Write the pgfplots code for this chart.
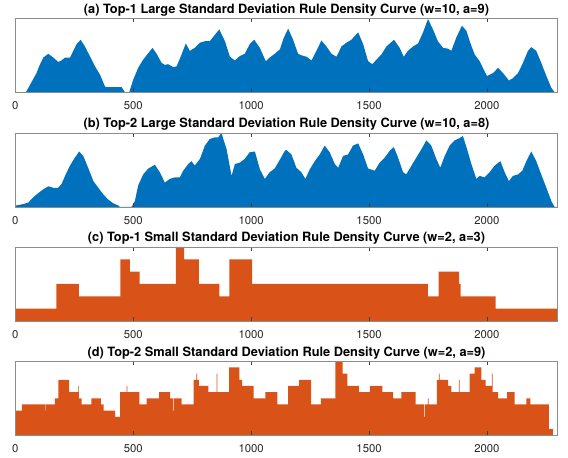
\documentclass[border=0pt]{standalone}
\usepackage{fontspec}
\setmainfont{TeX Gyre Heros}
\usepackage{pgfplots}
\pgfplotsset{compat=1.18}

\definecolor{mblue}{rgb}{0,0.447,0.741}
\definecolor{morange}{rgb}{0.85,0.325,0.098}

\pgfplotsset{
  panel/.style={
    scale only axis,
    width=542.4pt, height=74pt,
    anchor=south west,
    xmin=0, xmax=2300, ymin=0,
    xtick={0,500,1000,1500,2000},
    xticklabels={0,500,1000,1500,2000},
    ytick=\empty,
    tick align=inside,
    xtick pos=both, xticklabel pos=lower,
    major tick length=4pt,
    axis line style={black!45, line width=0.6pt},
    tick style={black!75, line width=0.5pt},
    xticklabel style={font=\fontsize{11.3}{13}\selectfont, yshift=-5.5pt, text=black!85},
    every axis title shift=0pt,
    title style={at={(0.5,1)}, anchor=south, inner sep=0pt, yshift=2pt,
                 font=\bfseries\fontsize{12.8}{14}\selectfont},
    axis on top,
  }
}

\begin{document}
\begin{tikzpicture}
\path[use as bounding box] (0pt,0pt) rectangle (568pt,458pt);

% (a) Top-1 large standard deviation rule
\begin{axis}[panel, at={(15.3pt,365.7pt)}, ymax=1,
  title={(a) Top-1 Large Standard Deviation Rule Density Curve (w=10, a=9)}]
\addplot[fill=mblue, draw=none] coordinates {
(0,0) (45,0) (90,0.26) (105,0.38) (119,0.47) (140,0.52) (161,0.47) (182,0.41)
(196,0.43) (211,0.47) (232,0.47) (246,0.56) (260,0.65) (277,0.71) (295,0.62)
(316,0.49) (338,0.35) (359,0.24) (380,0.08) (387,0.07) (451,0.07) (465,0)
(483,0) (500,0.17) (521,0.33) (542,0.44) (564,0.53) (582,0.60) (599,0.52)
(620,0.40) (634,0.37) (648,0.38) (670,0.34) (684,0.35) (705,0.51) (723,0.66)
(740,0.56) (761,0.60) (783,0.67) (804,0.69) (825,0.69) (842,0.76) (865,0.85)
(889,0.69) (910,0.48) (931,0.43) (952,0.49) (973,0.52) (994,0.65) (1013,0.71)
(1037,0.60) (1062,0.42) (1079,0.47) (1100,0.52) (1122,0.58) (1139,0.74)
(1157,0.86) (1178,0.71) (1199,0.52) (1213,0.50) (1235,0.48) (1256,0.43)
(1277,0.56) (1298,0.70) (1319,0.62) (1341,0.52) (1362,0.48) (1383,0.62)
(1404,0.67) (1425,0.71) (1454,0.81) (1475,0.65) (1496,0.42) (1514,0.38)
(1531,0.44) (1552,0.51) (1574,0.62) (1606,0.71) (1630,0.60) (1647,0.48)
(1665,0.56) (1687,0.62) (1708,0.66) (1729,0.81) (1750,0.99) (1771,0.85)
(1792,0.69) (1814,0.60) (1835,0.59) (1849,0.56) (1870,0.74) (1894,0.90)
(1913,0.83) (1929,0.67) (1948,0.51) (1969,0.42) (1986,0.31) (2000,0.22)
(2026,0.26) (2047,0.33) (2068,0.26) (2093,0.16) (2110,0.19) (2132,0.26)
(2153,0.40) (2174,0.56) (2188,0.61) (2209,0.56) (2230,0.40) (2252,0.22)
(2273,0.06) (2287,0) (2300,0)
} \closedcycle;
\end{axis}

% (b) Top-2 large standard deviation rule
\begin{axis}[panel, at={(15.3pt,251pt)}, ymax=1,
  title={(b) Top-2 Large Standard Deviation Rule Density Curve (w=10, a=8)}]
\addplot[fill=mblue, draw=none] coordinates {
(0,0.02) (3,0.02) (34,0.04) (55,0.06) (76,0.13) (98,0.19) (119,0.24) (140,0.28)
(161,0.26) (182,0.26) (196,0.31) (211,0.42) (232,0.56) (253,0.67) (271,0.75)
(288,0.69) (309,0.53) (331,0.35) (352,0.26) (373,0.17) (394,0.10) (415,0.05)
(437,0.02) (444,0) (493,0) (507,0.08) (521,0.29) (542,0.44) (564,0.52)
(592,0.57) (613,0.47) (634,0.33) (655,0.38) (677,0.40) (698,0.40) (712,0.49)
(733,0.58) (747,0.62) (761,0.56) (783,0.65) (804,0.83) (825,0.92) (846,0.94)
(860,0.94) (874,1.0) (896,0.78) (917,0.42) (931,0.58) (952,0.60) (973,0.65)
(994,0.74) (1016,0.75) (1037,0.51) (1058,0.38) (1079,0.47) (1100,0.52)
(1122,0.64) (1143,0.76) (1150,0.77) (1171,0.71) (1192,0.53) (1213,0.47)
(1230,0.38) (1249,0.51) (1270,0.62) (1291,0.71) (1312,0.83) (1333,0.74)
(1355,0.58) (1369,0.53) (1390,0.69) (1411,0.71) (1432,0.83) (1454,0.86)
(1475,0.71) (1496,0.52) (1524,0.49) (1545,0.60) (1567,0.67) (1588,0.76)
(1605,0.81) (1623,0.67) (1644,0.47) (1658,0.44) (1680,0.56) (1701,0.67)
(1722,0.78) (1743,0.90) (1764,0.83) (1785,0.65) (1802,0.53) (1821,0.69)
(1842,0.83) (1863,0.90) (1884,0.93) (1898,0.96) (1913,0.81) (1934,0.58)
(1955,0.38) (1969,0.42) (1990,0.40) (2011,0.47) (2033,0.56) (2057,0.62)
(2075,0.47) (2093,0.35) (2110,0.42) (2132,0.44) (2150,0.49) (2167,0.62)
(2188,0.75) (2209,0.62) (2230,0.44) (2252,0.26) (2273,0.08) (2287,0) (2300,0)
} \closedcycle;
\end{axis}

% (c) Top-1 small standard deviation rule
\begin{axis}[panel, at={(15.3pt,137pt)}, ymax=6,
  title={(c) Top-1 Small Standard Deviation Rule Density Curve (w=2, a=3)}]
\addplot[const plot, fill=morange, draw=none] coordinates {
(0,1) (174,3) (270,2) (446,5) (486,4) (527,3) (681,6) (716,5) (778,3)
(865,2) (908,5) (1004,3) (1749,2) (1795,4) (1882,3) (1888,2) (2037,1) (2300,1)
} \closedcycle;
\end{axis}

% (d) Top-2 small standard deviation rule
\begin{axis}[panel, at={(15.3pt,22.7pt)}, ymax=12,
  title={(d) Top-2 Small Standard Deviation Rule Density Curve (w=2, a=9)}]
\addplot[const plot, fill=morange, draw=none] coordinates {
(0,4) (28,5) (126,4) (129,5) (168,6) (183,9) (228,7) (267,8) (270,6) (281,5)
(323,6) (363,5) (375,4) (423,3) (445,7) (472,8) (475,7) (526,5) (557,6)
(610,7) (656,6) (670,4) (673,6) (705,5) (756,9) (768,10) (771,9) (778,8)
(819,7) (854,10) (857,7) (907,11) (950,9) (962,8) (1011,6) (1060,7) (1111,5)
(1157,8) (1203,9) (1254,5) (1296,6) (1357,12) (1388,10) (1408,8) (1457,7)
(1503,8) (1557,7) (1602,6) (1637,7) (1698,5) (1733,3) (1736,5) (1750,6)
(1753,5) (1788,9) (1796,10) (1799,9) (1835,8) (1849,7) (1881,9) (1884,7)
(1926,10) (1948,11) (1976,9) (1994,8) (2021,10) (2024,7) (2047,6) (2085,7)
(2117,5) (2167,6) (2184,5) (2263,1) (2280,0) (2300,0)
} \closedcycle;
\end{axis}
\end{tikzpicture}
\end{document}
